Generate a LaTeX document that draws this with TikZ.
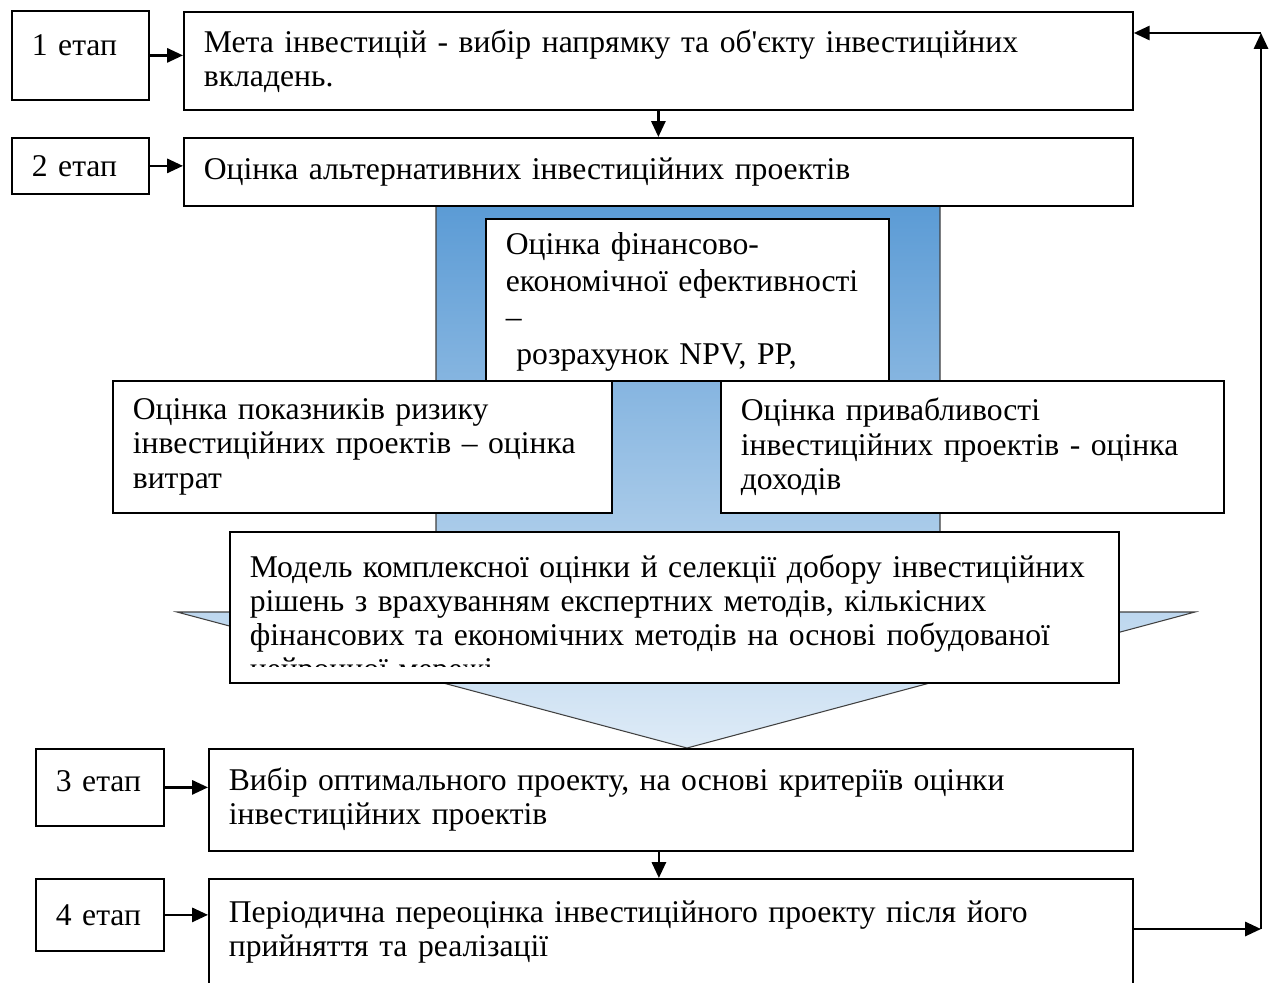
\documentclass[tikz,border=0pt]{standalone}
\usepackage{fontspec}
\setmainfont{Liberation Serif}
\usetikzlibrary{arrows.meta, positioning, calc}
\definecolor{arrowtop}{RGB}{91,155,213}
\definecolor{arrowbottom}{RGB}{222,235,247}

\begin{document}
\begin{tikzpicture}[x=0.2mm, y=-0.2mm,
    box/.style={draw, line width=1pt, fill=white, anchor=north west,
        inner xsep=4mm, inner ysep=0pt, align=left,
        font=\fontsize{18}{19.5}\selectfont},
    panel/.style={draw, line width=1pt, fill=white, anchor=north west, inner sep=0pt},
    link/.style={-{Triangle[length=9pt,width=8pt]}, line width=1.4pt}]
\useasboundingbox (0,0) rectangle (1275,983);
% Big arrow behind the evaluation block
\shade[top color=arrowtop, bottom color=arrowbottom, draw=black!75, line width=0.6pt]
    (436,205) -- (940,205) -- (940,612) -- (1195,612) -- (687,748)
    -- (177,612) -- (436,612) -- cycle;
% Stages 1 and 2
\node[box, text width=19.4mm, minimum height=17.8mm] (s1) at (11,10) {1 етап\\[-8pt]\mbox{}};
\node[box, text width=181.8mm, minimum height=19.6mm] (b1) at (183,11)
    {Мета інвестицій - вибір напрямку та об\textquotesingle єкту інвестиційних\\вкладень.};
\node[box, text width=19.4mm, minimum height=11.2mm] (s2) at (11,137) {2 етап};
\node[box, text width=181.8mm, minimum height=13.6mm] (b2) at (183,137)
    {Оцінка альтернативних інвестиційних проектів};
% Evaluation block
\node[panel, minimum width=80.6mm, minimum height=32.4mm] (fin) at (485,218) {};
\begin{scope}
\clip (fin.north west) rectangle ($(fin.south east)+(0,-11)$);
\node[box, draw=none, fill=none, text width=72.6mm, inner ysep=2.8mm,
    font=\fontsize{18}{20.8}\selectfont] (fintext) at (fin.north west)
    {Оцінка фінансово-\\економічної ефективності\\–\\\ розрахунок NPV, PP,};
\end{scope}
\node[box, text width=91.8mm, minimum height=26.4mm] (risk) at (112,380)
    {Оцінка показників ризику\\інвестиційних проектів – оцінка\\витрат};
\node[box, text width=92.6mm, minimum height=26.4mm] (attr) at (720,380)
    {Оцінка привабливості\\інвестиційних проектів - оцінка\\доходів};
\node[panel, minimum width=177.8mm, minimum height=30.2mm] (model) at (229,531) {};
\begin{scope}
\clip (model.north west) rectangle ($(model.south east)+(0,-17)$);
\node[box, draw=none, fill=none, text width=169.8mm, inner ysep=4.5mm] (modeltext) at (model.north west)
    {Модель комплексної оцінки й селекції добору інвестиційних\\рішень з врахуванням експертних методів, кількісних\\фінансових та економічних методів на основі побудованої\\нейронної мережі};
\end{scope}
% Stages 3 and 4
\node[box, text width=17.6mm, minimum height=15.4mm] (s3) at (35,748) {3 етап\\[-12pt]\mbox{}};
\node[box, text width=176.8mm, minimum height=20.4mm] (b3) at (208,748)
    {Вибір оптимального проекту, на основі критеріїв оцінки\\інвестиційних проектів};
\node[box, text width=17.6mm, minimum height=14.4mm] (s4) at (35,878) {4 етап};
\node[box, text width=176.8mm, minimum height=21.4mm] (b4) at (208,878)
    {Періодична переоцінка інвестиційного проекту після його\\прийняття та реалізації};
% Connections
\draw[link] (s1.east) -- (s1.east -| b1.west);
\draw[link] (s2.east) -- (s2.east -| b2.west);
\draw[link] (s3.east) -- (s3.east -| b3.west);
\draw[link] (s4.east) -- (s4.east -| b4.west);
\draw[link] (b1.south) -- (b2.north);
\draw[link] ($(b3.south)+(-12,0)$) -- ($(b4.north)+(-12,0)$);
% Feedback loop
\coordinate (fb1) at (1261,929);
\coordinate (fb2) at (1261,33);
\draw[link] (fb1 -| b4.east) -- (fb1);
\draw[link] (fb1) -- (fb2);
\draw[link] (fb2) -- (fb2 -| b1.east);
\end{tikzpicture}
\end{document}
